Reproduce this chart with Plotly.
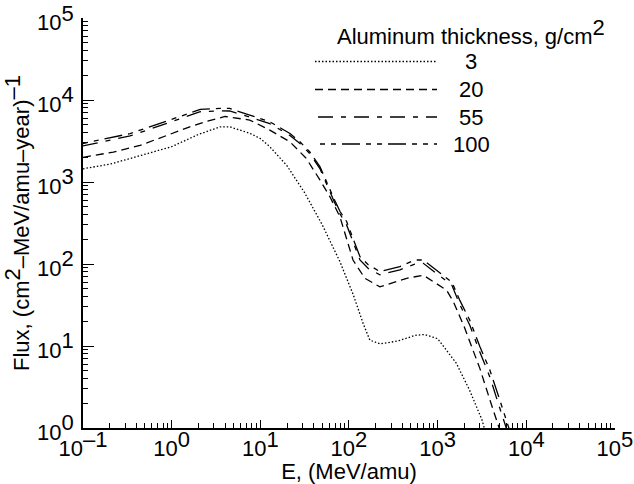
import plotly.graph_objects as go

# ---- data ----
thickness_labels = ["3", "20", "55", "100"]

E_3 = [0.1, 0.2, 0.32, 0.6, 1, 2, 3.5, 4.5, 7.6, 10, 12.8, 20, 31.6, 50, 79, 112, 145, 172,
       224, 355, 562, 708, 1000, 1620, 2290, 3160, 3400]
F_3 = [1450, 1650, 1900, 2300, 2700, 3800, 4700, 4720, 3930, 3400, 2690, 1580, 740, 300, 107,
       42, 18.6, 11.8, 10.6, 11.5, 13.5, 13.8, 12.3, 6.2, 2.9, 1.26, 0.95]

E_20 = [0.1, 0.22, 0.44, 1, 1.6, 2.5, 4, 7.6, 12.8, 21.6, 33, 47, 61, 79, 111, 151,
        223, 447, 690, 1260, 1500, 2000, 3000, 4000, 5000, 5500]
F_20 = [2000, 2320, 2800, 3900, 4700, 5500, 6300, 5700, 4300, 3090, 1940, 1060, 660, 378,
        112, 67, 52.6, 67, 73, 48, 35, 17, 5.3, 2.0, 0.95, 0.7]

E_55 = [0.1, 0.34, 1.24, 2.1, 3.5, 4.5, 7.6, 12.8, 21.6, 28, 36, 47, 69, 79, 94, 133,
        165, 223, 375, 553, 690, 1450, 1780, 2300, 3000, 3880, 5020, 6240]
F_55 = [2760, 3650, 5900, 7200, 7400, 7350, 6200, 5150, 3700, 2950, 2230, 1460, 560, 410,
        300, 112, 88, 74, 85, 100, 102, 55, 32, 18, 8.4, 4.2, 1.75, 0.85]

E_100 = [0.1, 0.34, 1.24, 2.1, 3.5, 4.5, 7.6, 12.8, 21.6, 28, 36, 47, 69, 79, 94, 133,
         165, 223, 375, 553, 690, 1450, 1780, 2300, 3000, 3880, 5020, 6240, 6800]
F_100 = [2950, 3900, 6300, 7700, 7900, 7900, 6560, 5430, 3900, 3090, 2340, 1540, 600, 440,
         330, 123, 98, 81, 93, 112, 112, 60, 36, 20.7, 9.8, 5.1, 2.2, 1.09, 0.8]

x_tickvals = [0.1, 1, 10, 100, 1000, 10000, 100000]
x_ticktext = ["–1", "0", "1", "2", "3", "4", "5"]
y_tickvals = [1, 10, 100, 1000, 10000, 100000]
y_ticktext = ["0", "1", "2", "3", "4", "5"]

# ---- styling ----
FONT = "Liberation Sans, Arial, Helvetica, sans-serif"
FS = 22
dashes = ["1.5px,2px", "8px,5px", "15px,8px,5px,8px", "5px,6px,5px,6px,18px,6px"]


def sup(s):
    return "<sup><span style='font-size:%dpx'>%s</span></sup>" % (FS, s)


def pow10(e):
    return "10" + sup(e)


series = [(E_3, F_3), (E_20, F_20), (E_55, F_55), (E_100, F_100)]

fig = go.Figure()
for (ex, fy), name, d in zip(series, thickness_labels, dashes):
    fig.add_trace(go.Scatter(x=ex, y=fy, mode="lines", name=name, showlegend=False,
                             line=dict(color="black", width=1.3, dash=d)))

# ---- plot area geometry (px) ----
W, H = 634, 484
L, R, T, B = 83, 19, 18, 56
pw, ph = W - L - R, H - T - B


def px_to_paper(xp, yp):
    return (xp - L) / pw, (H - B - yp) / ph


# manual legend (long sample lines like the reference)
leg_rows_y = [61.5, 89.5, 117, 144]
leg_x0 = [315, 315, 318, 320]
leg_x1 = 437
for yv, x0, d, name in zip(leg_rows_y, leg_x0, dashes, thickness_labels):
    a0, b0 = px_to_paper(x0, yv)
    a1, _ = px_to_paper(leg_x1, yv)
    fig.add_shape(type="line", xref="paper", yref="paper", x0=a0, x1=a1, y0=b0, y1=b0,
                  line=dict(color="black", width=1.3, dash=d))
    lx, ly = px_to_paper(471, yv)
    fig.add_annotation(xref="paper", yref="paper", x=lx, y=ly, text=name, showarrow=False,
                       xanchor="center", yanchor="middle",
                       font=dict(family=FONT, size=FS, color="black"))

tx, ty = px_to_paper(471, 32)
fig.add_annotation(xref="paper", yref="paper", x=tx, y=ty,
                   text="Aluminum thickness, g/cm" + sup("2"), showarrow=False,
                   xanchor="center", yanchor="middle",
                   font=dict(family=FONT, size=FS, color="black"))

axis_common = dict(
    type="log", showline=True, linecolor="black", linewidth=1.5, mirror=False,
    showgrid=False, zeroline=False, ticks="inside", tickcolor="black", tickwidth=1.2,
    tickfont=dict(family=FONT, size=FS, color="black"), tickmode="array",
    automargin=False, ticklabeloverflow="allow",
    minor=dict(ticks="inside", ticklen=5, tickcolor="black", tickwidth=1, dtick="D1",
               showgrid=False),
)

fig.update_layout(
    width=W, height=H, margin=dict(l=L, r=R, t=T, b=B, pad=0, autoexpand=False),
    paper_bgcolor="white", plot_bgcolor="white", hovermode=False,
    font=dict(family=FONT, size=FS, color="black"),
    xaxis=dict(axis_common, range=[-1, 5.0005], tickvals=x_tickvals,
               ticktext=[pow10(t) for t in x_ticktext], ticklen=8,
               title=dict(text="E, (MeV/amu)", standoff=4,
                          font=dict(family=FONT, size=FS, color="black"))),
    yaxis=dict(axis_common, range=[0, 5.0005], tickvals=y_tickvals, ticklabelstandoff=3,
               ticklabelshift=4,
               ticktext=[pow10(t) for t in y_ticktext], ticklen=11,
               title=dict(text="Flux, (cm" + sup("2") + "–MeV/amu–year)" + sup("–1"),
                          standoff=2, font=dict(family=FONT, size=FS, color="black"))),
)

fig.write_html("out.html", config={"displayModeBar": False},
               post_script="document.body.style.margin='0';document.body.style.overflow='hidden';")
